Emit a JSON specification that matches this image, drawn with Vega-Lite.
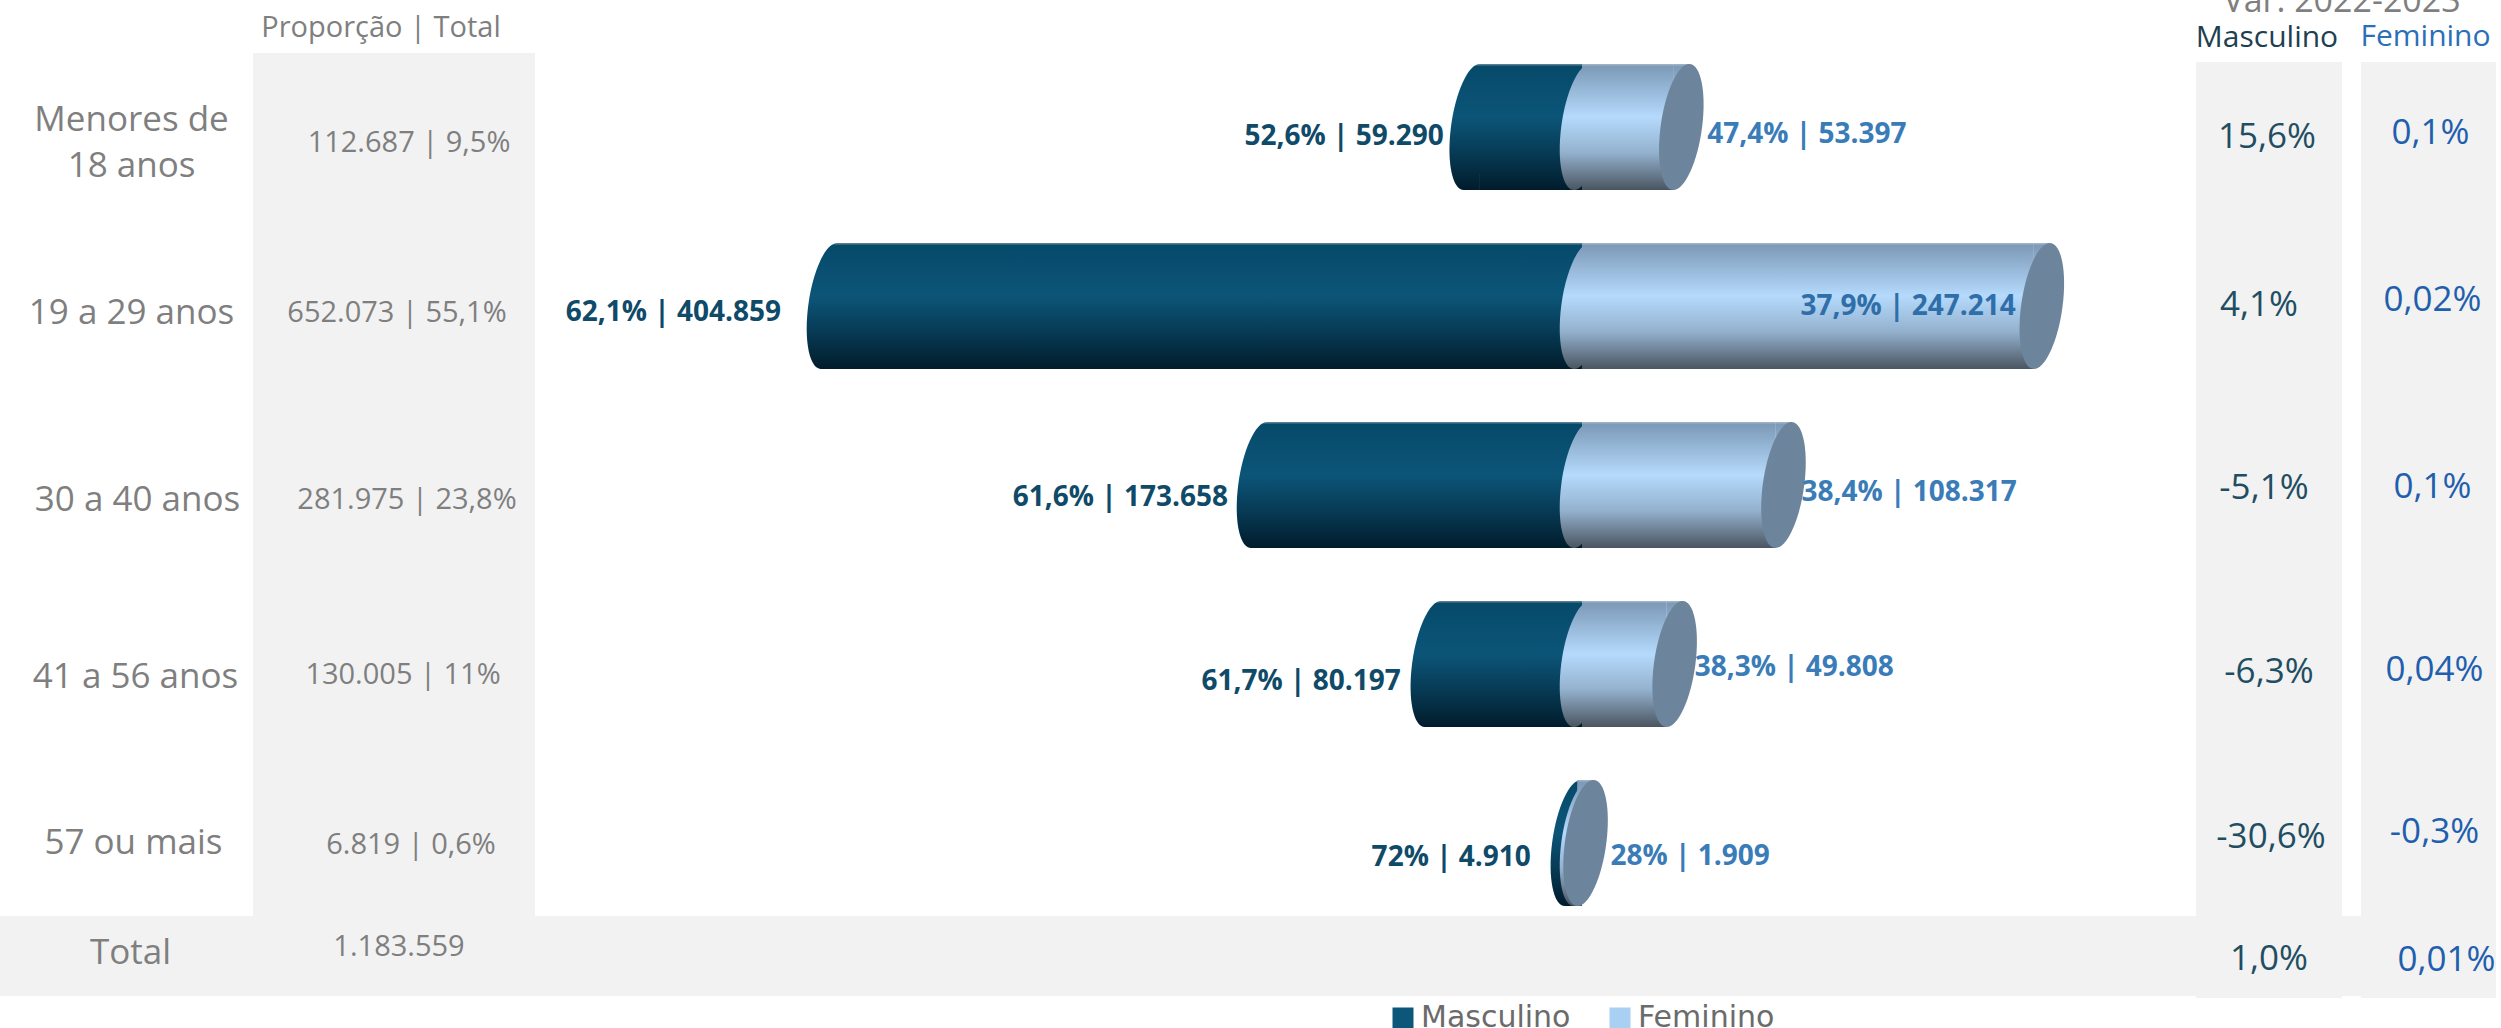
{"$schema":"https://vega.github.io/schema/vega-lite/v6.json","padding":0,"background":"white","spacing":0,"bounds":"flush",
"config":{"view":{"stroke":null},"style":{
"colA":{"font":"Open Sans","fontSize":35,"color":"#7f7f7f"},
"colB":{"font":"Open Sans","fontSize":29,"color":"#7f7f7f"},
"lm":{"font":"Open Sans","fontSize":28,"fontWeight":"bold","color":"#0f4a69","align":"right"},
"lf":{"font":"Open Sans","fontSize":28,"fontWeight":"bold","color":"#3a7cb8","align":"left"},
"vm":{"font":"Open Sans","fontSize":35,"color":"#1f4e63"},
"vf":{"font":"Open Sans","fontSize":35,"color":"#1f5fae"}}},
"datasets":{
"linhas":[
{"faixa":"Menores de 18 anos","rotulo":"Menores de\n18 anos","prop_total":"112.687 |  9,5%","var_m":"15,6%","var_f":"0,1%"},
{"faixa":"19 a 29 anos","rotulo":"19 a 29 anos","prop_total":"652.073 | 55,1%","var_m":"4,1%","var_f":"0,02%"},
{"faixa":"30 a 40 anos","rotulo":"30 a 40 anos","prop_total":"281.975 | 23,8%","var_m":"-5,1%","var_f":"0,1%"},
{"faixa":"41 a 56 anos","rotulo":"41 a 56 anos","prop_total":"130.005 | 11%","var_m":"-6,3%","var_f":"0,04%"},
{"faixa":"57 ou mais","rotulo":"57 ou mais","prop_total":"6.819 | 0,6%","var_m":"-30,6%","var_f":"-0,3%"},
{"faixa":"Total","rotulo":"Total","prop_total":"1.183.559","var_m":"1,0%","var_f":"0,01%"}],
"barras":[
{"faixa":"Menores de 18 anos","sexo":"Masculino","valor":59290,"rotulo":"52,6% | 59.290"},
{"faixa":"Menores de 18 anos","sexo":"Feminino","valor":53397,"rotulo":"47,4% | 53.397"},
{"faixa":"19 a 29 anos","sexo":"Masculino","valor":404859,"rotulo":"62,1% | 404.859"},
{"faixa":"19 a 29 anos","sexo":"Feminino","valor":247214,"rotulo":"37,9% | 247.214"},
{"faixa":"30 a 40 anos","sexo":"Masculino","valor":173658,"rotulo":"61,6% | 173.658"},
{"faixa":"30 a 40 anos","sexo":"Feminino","valor":108317,"rotulo":"38,4% | 108.317"},
{"faixa":"41 a 56 anos","sexo":"Masculino","valor":80197,"rotulo":"61,7% | 80.197"},
{"faixa":"41 a 56 anos","sexo":"Feminino","valor":49808,"rotulo":"38,3% | 49.808"},
{"faixa":"57 ou mais","sexo":"Masculino","valor":4910,"rotulo":"72% | 4.910"},
{"faixa":"57 ou mais","sexo":"Feminino","valor":1909,"rotulo":"28% | 1.909"}]},
"hconcat":[
{"width":253,"height":1028,"data":{"name":"linhas"},
"encoding":{"y":{"field":"faixa","type":"nominal","sort":null,"axis":null,"scale":{"type":"point","padding":0,"domain":["Menores de 18 anos","19 a 29 anos","30 a 40 anos","41 a 56 anos","57 ou mais","Total"],"range":[127,1022]}}},
"layer":[
{"transform":[{"filter":"datum.faixa=='Total'"}],"mark":{"type":"rect","fill":"#f2f2f2","yOffset":-106,"y2Offset":-26},"encoding":{"y":{"datum":"Total","type":"nominal","axis":null},"y2":{"datum":"Total"}}},
{"transform":[{"filter":"datum.faixa=='Menores de 18 anos'"}],"mark":{"type":"text","style":"colA","dx":5,"dy":-7,"lineBreak":"\n","lineHeight":46},"encoding":{"text":{"field":"rotulo"}}},
{"transform":[{"filter":"datum.faixa=='19 a 29 anos'"}],"mark":{"type":"text","style":"colA","dx":5,"dy":7},"encoding":{"text":{"field":"rotulo"}}},
{"transform":[{"filter":"datum.faixa=='30 a 40 anos'"}],"mark":{"type":"text","style":"colA","dx":11,"dy":15},"encoding":{"text":{"field":"rotulo"}}},
{"transform":[{"filter":"datum.faixa=='41 a 56 anos'"}],"mark":{"type":"text","style":"colA","dx":9,"dy":13},"encoding":{"text":{"field":"rotulo"}}},
{"transform":[{"filter":"datum.faixa=='57 ou mais'"}],"mark":{"type":"text","style":"colA","dx":7,"dy":0},"encoding":{"text":{"field":"rotulo"}}},
{"transform":[{"filter":"datum.faixa=='Total'"}],"mark":{"type":"text","style":"colA","dx":4,"dy":-69},"encoding":{"text":{"field":"rotulo"}}}
]},
{"width":282,"height":1028,"data":{"name":"linhas"},
"encoding":{"y":{"field":"faixa","type":"nominal","sort":null,"axis":null,"scale":{"type":"point","padding":0,"domain":["Menores de 18 anos","19 a 29 anos","30 a 40 anos","41 a 56 anos","57 ou mais","Total"],"range":[127,1022]}}},
"layer":[
{"transform":[{"filter":"datum.faixa=='Total'"}],"mark":{"type":"rect","fill":"#f2f2f2","yOffset":-74,"y2Offset":-26},"encoding":{"y":{"datum":"Menores de 18 anos","type":"nominal","axis":null},"y2":{"datum":"Total"}}},
{"transform":[{"filter":"datum.faixa=='Total'"}],"mark":{"type":"text","style":"colB","dx":-13,"dy":-99},"encoding":{"y":{"datum":"Menores de 18 anos","type":"nominal","axis":null},"text":{"datum":"Proporção | Total"}}},
{"transform":[{"filter":"datum.faixa=='Menores de 18 anos'"}],"mark":{"type":"text","style":"colB","dx":15,"dy":16},"encoding":{"text":{"field":"prop_total"}}},
{"transform":[{"filter":"datum.faixa=='19 a 29 anos'"}],"mark":{"type":"text","style":"colB","dx":3,"dy":7},"encoding":{"text":{"field":"prop_total"}}},
{"transform":[{"filter":"datum.faixa=='30 a 40 anos'"}],"mark":{"type":"text","style":"colB","dx":13,"dy":15},"encoding":{"text":{"field":"prop_total"}}},
{"transform":[{"filter":"datum.faixa=='41 a 56 anos'"}],"mark":{"type":"text","style":"colB","dx":9,"dy":11},"encoding":{"text":{"field":"prop_total"}}},
{"transform":[{"filter":"datum.faixa=='57 ou mais'"}],"mark":{"type":"text","style":"colB","dx":17,"dy":2},"encoding":{"text":{"field":"prop_total"}}},
{"transform":[{"filter":"datum.faixa=='Total'"}],"mark":{"type":"text","style":"colB","dx":5,"dy":-75},"encoding":{"text":{"field":"prop_total"}}}
]},
{"width":1661,"height":1028,"data":{"name":"barras"},
"transform":[{"calculate":"datum.sexo==='Masculino'?-datum.valor:datum.valor","as":"pos"}],
"encoding":{"y":{"field":"faixa","type":"nominal","sort":null,"axis":null,"scale":{"type":"point","padding":0,"domain":["Menores de 18 anos","19 a 29 anos","30 a 40 anos","41 a 56 anos","57 ou mais","Total"],"range":[127,1022]}},
"x":{"field":"pos","type":"quantitative","axis":null,"scale":{"domain":[-562903,330108],"nice":false,"zero":false}}},
"layer":[
{"transform":[{"filter":"datum.faixa=='19 a 29 anos'&&datum.sexo==='Masculino'"}],"mark":{"type":"rect","fill":"#f2f2f2","yOffset":-106,"y2Offset":-26},"encoding":{"x":null,"y":{"datum":"Total","type":"nominal","axis":null},"y2":{"datum":"Total"}}},
{"mark":{"type":"bar","size":1},"encoding":{"x2":{"datum":0},"color":{"field":"sexo","type":"nominal","scale":{"domain":["Masculino","Feminino"],"range":["#0b5679","#a9cff2"]},"legend":{"title":null,"orient":"none","legendX":1388,"legendY":1003,"direction":"horizontal","symbolType":"square","symbolSize":441,"symbolStrokeWidth":0,"labelFont":"DejaVu Sans","labelFontSize":30,"labelColor":"#6b6b6b","columnPadding":34,"labelOffset":3,"values":["Masculino","Feminino"]}}}},
{"transform":[{"filter":"datum.sexo==='Masculino'"}],"mark":{"type":"bar","size":126,"xOffset":8,"fill":{"gradient":"linear","x1":0,"y1":0,"x2":0,"y2":1,"stops":[{"offset":0,"color":"#6f8a9b"},{"offset":0.02,"color":"#064a6a"},{"offset":0.42,"color":"#0c5578"},{"offset":0.7,"color":"#073b56"},{"offset":1,"color":"#011c2b"}]}},"encoding":{"x2":{"datum":0}}},
{"transform":[{"filter":"datum.sexo==='Masculino'"}],"mark":{"type":"point","filled":true,"opacity":1,"size":15876,"stroke":null,"fill":{"gradient":"linear","x1":0,"y1":0,"x2":0,"y2":1,"stops":[{"offset":0,"color":"#6f8a9b"},{"offset":0.02,"color":"#064a6a"},{"offset":0.42,"color":"#0c5578"},{"offset":0.7,"color":"#073b56"},{"offset":1,"color":"#011c2b"}]},"shape":"M-0.127,1L0.13,1L0.13,-1Z"}},
{"transform":[{"filter":"datum.sexo==='Masculino'"}],"mark":{"type":"point","filled":true,"opacity":1,"size":15876,"stroke":null,"fill":{"gradient":"linear","x1":0,"y1":0,"x2":0,"y2":1,"stops":[{"offset":0,"color":"#6f8a9b"},{"offset":0.02,"color":"#064a6a"},{"offset":0.42,"color":"#0c5578"},{"offset":0.7,"color":"#073b56"},{"offset":1,"color":"#011c2b"}]},"shape":"M0.33,0C0.2599,0.5523,0.0553,1,-0.127,1C-0.3093,1,-0.4001,0.5523,-0.33,0C-0.2599,-0.5523,-0.0553,-1,0.127,-1C0.3093,-1,0.4001,-0.5523,0.33,0Z"}},
{"transform":[{"filter":"datum.sexo==='Feminino'"}],"mark":{"type":"bar","size":126,"xOffset":-8,"fill":{"gradient":"linear","x1":0,"y1":0,"x2":0,"y2":1,"stops":[{"offset":0,"color":"#a8b8c8"},{"offset":0.02,"color":"#7d9ab8"},{"offset":0.42,"color":"#b5dafc"},{"offset":0.7,"color":"#94b2cf"},{"offset":1,"color":"#4a5560"}]}},"encoding":{"x2":{"datum":0}}},
{"transform":[{"filter":"datum.sexo==='Feminino'"}],"mark":{"type":"point","filled":true,"opacity":1,"size":15876,"stroke":null,"fill":{"gradient":"linear","x1":0,"y1":0,"x2":0,"y2":1,"stops":[{"offset":0,"color":"#a8b8c8"},{"offset":0.02,"color":"#7d9ab8"},{"offset":0.42,"color":"#b5dafc"},{"offset":0.7,"color":"#94b2cf"},{"offset":1,"color":"#4a5560"}]},"shape":"M-0.13,-1L0.127,-1L-0.13,1Z"}},
{"transform":[{"filter":"datum.sexo==='Feminino'"}],"mark":{"type":"point","filled":true,"opacity":1,"size":15876,"stroke":null,"fill":{"gradient":"linear","x1":0,"y1":0,"x2":0,"y2":1,"stops":[{"offset":0,"color":"#a8b8c8"},{"offset":0.02,"color":"#7d9ab8"},{"offset":0.42,"color":"#b5dafc"},{"offset":0.7,"color":"#94b2cf"},{"offset":1,"color":"#4a5560"}]},"shape":"M0.33,0C0.2599,0.5523,0.0553,1,-0.127,1C-0.3093,1,-0.4001,0.5523,-0.33,0C-0.2599,-0.5523,-0.0553,-1,0.127,-1C0.3093,-1,0.4001,-0.5523,0.33,0Z"},"encoding":{"x":{"datum":0}}},
{"transform":[{"filter":"datum.sexo==='Feminino'"}],"mark":{"type":"point","filled":true,"opacity":1,"size":15876,"stroke":null,"fill":"#6c859d","shape":"M0.33,0C0.2599,0.5523,0.0553,1,-0.127,1C-0.3093,1,-0.4001,0.5523,-0.33,0C-0.2599,-0.5523,-0.0553,-1,0.127,-1C0.3093,-1,0.4001,-0.5523,0.33,0Z"}},
{"transform":[{"filter":"datum.sexo==='Masculino'&&datum.faixa=='Menores de 18 anos'"}],"mark":{"type":"text","style":"lm","dx":-28,"dy":10},"encoding":{"text":{"field":"rotulo"}}},
{"transform":[{"filter":"datum.sexo==='Masculino'&&datum.faixa=='19 a 29 anos'"}],"mark":{"type":"text","style":"lm","dx":-48,"dy":7},"encoding":{"text":{"field":"rotulo"}}},
{"transform":[{"filter":"datum.sexo==='Masculino'&&datum.faixa=='30 a 40 anos'"}],"mark":{"type":"text","style":"lm","dx":-31,"dy":13},"encoding":{"text":{"field":"rotulo"}}},
{"transform":[{"filter":"datum.sexo==='Masculino'&&datum.faixa=='41 a 56 anos'"}],"mark":{"type":"text","style":"lm","dx":-32,"dy":18},"encoding":{"text":{"field":"rotulo"}}},
{"transform":[{"filter":"datum.sexo==='Masculino'&&datum.faixa=='57 ou mais'"}],"mark":{"type":"text","style":"lm","dx":-42,"dy":15},"encoding":{"text":{"field":"rotulo"}}},
{"transform":[{"filter":"datum.sexo==='Feminino'&&datum.faixa=='Menores de 18 anos'"}],"mark":{"type":"text","style":"lf","dx":26,"dy":8},"encoding":{"text":{"field":"rotulo"}}},
{"transform":[{"filter":"datum.sexo==='Feminino'&&datum.faixa=='19 a 29 anos'"}],"mark":{"type":"text","style":"lf","align":"right","dx":-26,"dy":1,"color":"#2f6ea8"},"encoding":{"text":{"field":"rotulo"}}},
{"transform":[{"filter":"datum.sexo==='Feminino'&&datum.faixa=='30 a 40 anos'"}],"mark":{"type":"text","style":"lf","dx":18,"dy":8},"encoding":{"text":{"field":"rotulo"}}},
{"transform":[{"filter":"datum.sexo==='Feminino'&&datum.faixa=='41 a 56 anos'"}],"mark":{"type":"text","style":"lf","dx":20,"dy":4},"encoding":{"text":{"field":"rotulo"}}},
{"transform":[{"filter":"datum.sexo==='Feminino'&&datum.faixa=='57 ou mais'"}],"mark":{"type":"text","style":"lf","dx":25,"dy":14},"encoding":{"text":{"field":"rotulo"}}}
]},
{"width":300,"height":1028,"data":{"name":"linhas"},
"encoding":{"y":{"field":"faixa","type":"nominal","sort":null,"axis":null,"scale":{"type":"point","padding":0,"domain":["Menores de 18 anos","19 a 29 anos","30 a 40 anos","41 a 56 anos","57 ou mais","Total"],"range":[127,1022]}}},
"layer":[
{"transform":[{"filter":"datum.faixa=='Total'"}],"mark":{"type":"rect","fill":"#f2f2f2","yOffset":-106,"y2Offset":-26},"encoding":{"y":{"datum":"Total","type":"nominal","axis":null},"y2":{"datum":"Total"}}},
{"transform":[{"filter":"datum.faixa=='Total'"}],"mark":{"type":"bar","size":146,"fill":"#f2f2f2","yOffset":-65,"y2Offset":-24},"encoding":{"x":{"datum":"Masculino","type":"nominal","axis":null,"scale":{"type":"point","padding":0,"domain":["Masculino","Feminino"],"range":[73,232.5]}},"y":{"datum":"Menores de 18 anos","type":"nominal","axis":null},"y2":{"datum":"Total"}}},
{"transform":[{"filter":"datum.faixa=='Total'"}],"mark":{"type":"bar","size":135,"fill":"#f2f2f2","yOffset":-65,"y2Offset":-24},"encoding":{"x":{"datum":"Feminino","type":"nominal","axis":null},"y":{"datum":"Menores de 18 anos","type":"nominal","axis":null},"y2":{"datum":"Total"}}},
{"transform":[{"filter":"datum.faixa=='Total'"}],"mark":{"type":"text","font":"Open Sans","fontSize":34,"color":"#7f7f7f","dx":73,"dy":-125,"clip":true},"encoding":{"x":{"datum":"Masculino","type":"nominal","axis":null},"y":{"datum":"Menores de 18 anos","type":"nominal","axis":null},"text":{"datum":"Var. 2022-2023"}}},
{"transform":[{"filter":"datum.faixa=='Total'"}],"mark":{"type":"text","font":"Open Sans","fontSize":30,"color":"#1e3f52","dx":-2,"dy":-89},"encoding":{"x":{"datum":"Masculino","type":"nominal","axis":null},"y":{"datum":"Menores de 18 anos","type":"nominal","axis":null},"text":{"datum":"Masculino"}}},
{"transform":[{"filter":"datum.faixa=='Total'"}],"mark":{"type":"text","font":"Open Sans","fontSize":30,"color":"#2a6fb8","dx":-3,"dy":-90},"encoding":{"x":{"datum":"Feminino","type":"nominal","axis":null},"y":{"datum":"Menores de 18 anos","type":"nominal","axis":null},"text":{"datum":"Feminino"}}},
{"transform":[{"filter":"datum.faixa=='Menores de 18 anos'"}],"mark":{"type":"text","style":"vm","dx":-2,"dy":10},"encoding":{"x":{"datum":"Masculino","type":"nominal","axis":null},"text":{"field":"var_m"}}},
{"transform":[{"filter":"datum.faixa=='19 a 29 anos'"}],"mark":{"type":"text","style":"vm","dx":-10,"dy":-1},"encoding":{"x":{"datum":"Masculino","type":"nominal","axis":null},"text":{"field":"var_m"}}},
{"transform":[{"filter":"datum.faixa=='30 a 40 anos'"}],"mark":{"type":"text","style":"vm","dx":-5,"dy":3},"encoding":{"x":{"datum":"Masculino","type":"nominal","axis":null},"text":{"field":"var_m"}}},
{"transform":[{"filter":"datum.faixa=='41 a 56 anos'"}],"mark":{"type":"text","style":"vm","dx":0,"dy":8},"encoding":{"x":{"datum":"Masculino","type":"nominal","axis":null},"text":{"field":"var_m"}}},
{"transform":[{"filter":"datum.faixa=='57 ou mais'"}],"mark":{"type":"text","style":"vm","dx":2,"dy":-6},"encoding":{"x":{"datum":"Masculino","type":"nominal","axis":null},"text":{"field":"var_m"}}},
{"transform":[{"filter":"datum.faixa=='Total'"}],"mark":{"type":"text","style":"vm","dx":0,"dy":-63},"encoding":{"x":{"datum":"Masculino","type":"nominal","axis":null},"text":{"field":"var_m"}}},
{"transform":[{"filter":"datum.faixa=='Menores de 18 anos'"}],"mark":{"type":"text","style":"vf","dx":2,"dy":6},"encoding":{"x":{"datum":"Feminino","type":"nominal","axis":null},"text":{"field":"var_f"}}},
{"transform":[{"filter":"datum.faixa=='19 a 29 anos'"}],"mark":{"type":"text","style":"vf","dx":4,"dy":-6},"encoding":{"x":{"datum":"Feminino","type":"nominal","axis":null},"text":{"field":"var_f"}}},
{"transform":[{"filter":"datum.faixa=='30 a 40 anos'"}],"mark":{"type":"text","style":"vf","dx":4,"dy":2},"encoding":{"x":{"datum":"Feminino","type":"nominal","axis":null},"text":{"field":"var_f"}}},
{"transform":[{"filter":"datum.faixa=='41 a 56 anos'"}],"mark":{"type":"text","style":"vf","dx":6,"dy":6},"encoding":{"x":{"datum":"Feminino","type":"nominal","axis":null},"text":{"field":"var_f"}}},
{"transform":[{"filter":"datum.faixa=='57 ou mais'"}],"mark":{"type":"text","style":"vf","dx":6,"dy":-11},"encoding":{"x":{"datum":"Feminino","type":"nominal","axis":null},"text":{"field":"var_f"}}},
{"transform":[{"filter":"datum.faixa=='Total'"}],"mark":{"type":"text","style":"vf","dx":18,"dy":-62},"encoding":{"x":{"datum":"Feminino","type":"nominal","axis":null},"text":{"field":"var_f"}}}
]}
]}
